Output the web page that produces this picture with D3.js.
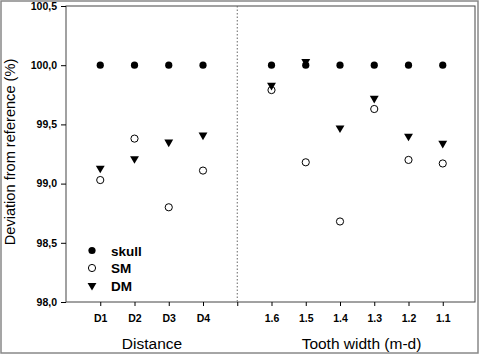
<!DOCTYPE html>
<html><head><meta charset="utf-8">
<script src="https://cdn.jsdelivr.net/npm/d3@7"></script>
<style>body{margin:0;background:#fff}svg{display:block}</style>
</head><body>
<script>
const categories = ["D1","D2","D3","D4","1.6","1.5","1.4","1.3","1.2","1.1"];
const xIndex = [1,2,3,4,6,7,8,9,10,11];
const skull = [100,100,100,100,100,100,100,100,100,100];
const SM = [99.03,99.38,98.80,99.11,99.79,99.18,98.68,99.63,99.20,99.17];
const DM = [99.13,99.21,99.35,99.41,99.83,100.03,99.47,99.72,99.40,99.34];
const yTicks = [98.0,98.5,99.0,99.5,100.0,100.5];
const separatorIndex = 5;
const groupTitles = ["Distance","Tooth width (m-d)"];
const yTitle = "Deviation from reference (%)";

const W=480,H=355;
const L=66,R=475,T=6,B=302;
const svg=d3.select("body").append("svg").attr("width",W).attr("height",H);
svg.append("rect").attr("x",1).attr("y",1).attr("width",477).attr("height",352)
  .attr("fill","#fff").attr("stroke","#888").attr("stroke-width",1.5);

const x=d3.scaleLinear().domain([0,12]).range([L,477]);
const y=d3.scaleLinear().domain([98,100.5]).range([B,T]);

svg.append("rect").attr("x",L).attr("y",T).attr("width",R-L).attr("height",B-T)
  .attr("fill","none").attr("stroke","#444").attr("stroke-width",1);

const fmt=d=>d.toFixed(1).replace(".",",");
const ya=svg.append("g").attr("transform",`translate(${L},0)`)
  .call(d3.axisLeft(y).tickValues(yTicks).tickSize(5).tickPadding(4).tickFormat(fmt));
ya.select(".domain").remove();
ya.selectAll("text").attr("font-family","Arial, Liberation Sans, sans-serif").attr("font-size",10.5).attr("font-weight","bold").attr("fill","#000");

const xa=svg.append("g").attr("transform",`translate(0,${B})`)
  .call(d3.axisBottom(x).tickValues(xIndex.concat([separatorIndex])).tickSize(4).tickPadding(9)
  .tickFormat(d=>{const i=xIndex.indexOf(d);return i>=0?categories[i]:"";}));
xa.select(".domain").remove();
xa.selectAll("text").attr("font-family","Arial, Liberation Sans, sans-serif").attr("font-size",10.5).attr("font-weight","bold").attr("fill","#000");

svg.append("line").attr("x1",x(separatorIndex)).attr("x2",x(separatorIndex)).attr("y1",T).attr("y2",B)
  .attr("stroke","#666").attr("stroke-dasharray","1.5,2");

const tri=d3.symbol().type(d3.symbolTriangle).size(34);
function drawTri(g,cx,cy){g.append("path").attr("d",tri()).attr("transform",`translate(${cx},${cy}) rotate(180)`).attr("fill","#000");}

const gS=svg.append("g");
skull.forEach((v,i)=>gS.append("circle").attr("cx",x(xIndex[i])).attr("cy",y(v)).attr("r",3.6).attr("fill","#000"));
SM.forEach((v,i)=>gS.append("circle").attr("cx",x(xIndex[i])).attr("cy",y(v)).attr("r",3.6).attr("fill","#fff").attr("stroke","#000").attr("stroke-width",1));
DM.forEach((v,i)=>drawTri(gS,x(xIndex[i]),y(v)));

// legend
const lg=svg.append("g");
const lgItems=["skull","SM","DM"];
lgItems.forEach((t,i)=>{
  const cy=250.5+i*17.5, cx=92;
  if(i===0) lg.append("circle").attr("cx",cx).attr("cy",cy).attr("r",3.6).attr("fill","#000");
  else if(i===1) lg.append("circle").attr("cx",cx).attr("cy",cy).attr("r",3.6).attr("fill","#fff").attr("stroke","#000");
  else drawTri(lg,cx,cy);
  lg.append("text").attr("x",111).attr("y",cy+5).text(t)
    .attr("font-family","Arial, Liberation Sans, sans-serif").attr("font-size",13.5).attr("font-weight","bold");
});

svg.append("text").attr("transform",`translate(15,${152}) rotate(-90)`).attr("text-anchor","middle")
  .attr("font-family","Arial, Liberation Sans, sans-serif").attr("font-size",14.6).text(yTitle);
svg.append("text").attr("x",152).attr("y",348.5).attr("text-anchor","middle")
  .attr("font-family","Arial, Liberation Sans, sans-serif").attr("font-size",15.5).text(groupTitles[0]);
svg.append("text").attr("x",361.5).attr("y",348.5).attr("text-anchor","middle")
  .attr("font-family","Arial, Liberation Sans, sans-serif").attr("font-size",15.5).text(groupTitles[1]);
</script>
</body></html>
